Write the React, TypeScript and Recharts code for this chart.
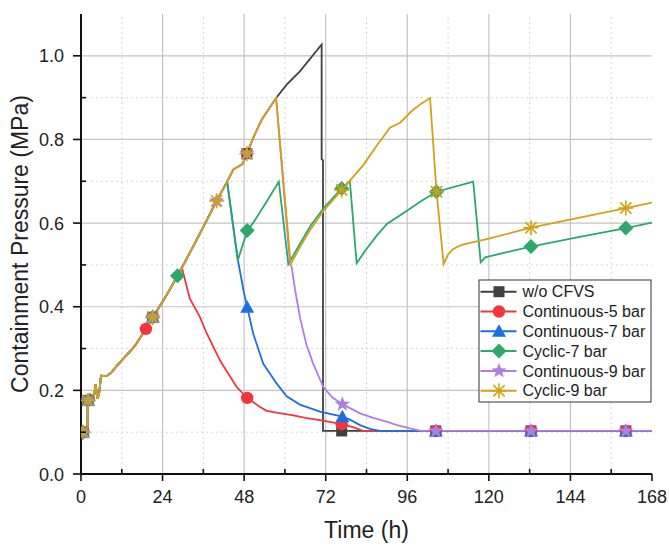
import React from 'react';
import { LineChart, Line, XAxis, YAxis, ReferenceLine } from 'recharts';

type Pt = [number, number];

// axis ticks (h / MPa)
const timeTicks = [0, 12, 24, 36, 48, 60, 72, 84, 96, 108, 120, 132, 144, 156, 168];
const timeMajor = [24, 48, 72, 96, 120, 144];
const timeMinor = [12, 36, 60, 84, 108, 132, 156];
const pressTicks = [0, 0.1, 0.2, 0.3, 0.4, 0.5, 0.6, 0.7, 0.8, 0.9, 1.0];
const pressMajor = [0.2, 0.4, 0.6, 0.8, 1.0];
const pressMinor = [0.1, 0.3, 0.5, 0.7, 0.9];

// common pressurisation before any venting
const riseCommon: Pt[] = [
  [0, 0.1], [0.6, 0.1], [1.9, 0.1], [2.0, 0.175], [2.1, 0.176], [2.5, 0.192], [2.9, 0.172],
  [3.3, 0.19], [3.7, 0.178], [4.3, 0.215], [4.8, 0.18], [5.3, 0.19], [5.9, 0.235], [7.5, 0.234],
  [9.0, 0.243], [10.9, 0.262], [13.5, 0.285], [15.9, 0.307], [18.8, 0.343], [19.1, 0.347],
  [21.1, 0.375], [25, 0.425], [28.4, 0.474],
];
const climbTo43: Pt[] = [[29.8, 0.495], [35, 0.575], [39.9, 0.653], [43, 0.699]];
const climbTo57: Pt[] = [[44.8, 0.728], [47.5, 0.741], [48.8, 0.766], [51, 0.81], [53.2, 0.848], [57.4, 0.899]];

const noCfvsTail: Pt[] = [
  [60.5, 0.931], [64.4, 0.963], [70.8, 1.027], [70.8, 0.753], [71.2, 0.75], [71.2, 0.103],
  [76.7, 0.103], [104.4, 0.103], [132.4, 0.103], [160.3, 0.103], [168, 0.103],
];
const cont5Tail: Pt[] = [
  [29.8, 0.49], [32, 0.42], [35, 0.375], [37, 0.336], [41, 0.27], [45.8, 0.208], [48.9, 0.182],
  [52.7, 0.16], [54.6, 0.151], [58, 0.146], [62.5, 0.14], [66, 0.134], [70.3, 0.129], [76.7, 0.119],
  [80, 0.112], [83, 0.103], [104.4, 0.103], [132.4, 0.103], [160.3, 0.103], [168, 0.103],
];
const cont7Tail: Pt[] = [
  [46.2, 0.51], [47.8, 0.439], [48.9, 0.399], [50.7, 0.335], [53.6, 0.264], [57.6, 0.216],
  [60.5, 0.186], [64.4, 0.166], [70.3, 0.149], [76.9, 0.137], [79.1, 0.13], [82.1, 0.117],
  [85, 0.108], [88, 0.103], [104.4, 0.103], [132.4, 0.103], [160.3, 0.103], [168, 0.103],
];
const cyc7Tail: Pt[] = [
  [46.1, 0.51], [48.9, 0.582], [50.7, 0.601], [54.5, 0.65], [58.2, 0.699], [61, 0.502],
  [64.4, 0.55], [67.5, 0.593], [71.3, 0.635], [76.7, 0.683], [79.1, 0.701], [81.1, 0.504],
  [84, 0.538], [87, 0.57], [90, 0.598], [95.8, 0.629], [100, 0.652], [104.6, 0.675],
  [114.4, 0.697], [115.4, 0.699], [117.6, 0.506], [118.9, 0.518], [125, 0.53], [132.4, 0.544],
  [146, 0.566], [160.3, 0.588], [168, 0.601],
];
const cont9Tail: Pt[] = [
  [61.5, 0.502], [62, 0.494], [63, 0.44], [64.4, 0.375], [66.3, 0.31], [68.3, 0.264],
  [71.3, 0.208], [74, 0.183], [76.9, 0.167], [82.1, 0.145], [86, 0.134], [89.9, 0.125],
  [93, 0.117], [96.8, 0.109], [100, 0.103], [104.4, 0.103], [132.4, 0.103], [160.3, 0.103], [168, 0.103],
];
const cyc9Tail: Pt[] = [
  [61.7, 0.502], [64.4, 0.542], [67.5, 0.585], [71.3, 0.629], [76.7, 0.679], [80, 0.71],
  [83, 0.738], [87, 0.785], [90.9, 0.828], [93.9, 0.84], [97.3, 0.868], [100, 0.885],
  [102.7, 0.899], [104.6, 0.675], [106.7, 0.502], [108, 0.525], [109.5, 0.538], [111.5, 0.546],
  [113.5, 0.551], [120, 0.563], [132.4, 0.589], [146, 0.612], [160.3, 0.636], [168, 0.649],
];

// times at which symbols are plotted
const noCfvsMarks = [0.6, 2.1, 21.1, 48.8, 76.7, 104.4, 132.4, 160.3];
const cont5Marks = [0.6, 19.1, 48.9, 76.7, 104.4, 132.4, 160.3];
const cont7Marks = [0.6, 2.1, 21.1, 48.9, 76.9, 104.4, 132.4, 160.3];
const cyc7Marks = [0.6, 2.1, 21.1, 28.4, 48.9, 76.7, 104.6, 132.4, 160.3];
const cont9Marks = [0.6, 2.1, 21.1, 39.9, 48.8, 76.9, 104.4, 132.4, 160.3];
const cyc9Marks = [0.6, 2.1, 21.1, 39.9, 48.8, 76.7, 104.6, 132.4, 160.3];

type Shape = 'square' | 'circle' | 'triangle' | 'diamond' | 'star' | 'asterisk';

const series = [
  { name: 'w/o CFVS', color: '#404040', shape: 'square' as Shape,
    points: [...riseCommon, ...climbTo43, ...climbTo57, ...noCfvsTail], marks: noCfvsMarks },
  { name: 'Continuous-5 bar', color: '#f2363c', shape: 'circle' as Shape,
    points: [...riseCommon, ...cont5Tail], marks: cont5Marks },
  { name: 'Continuous-7 bar', color: '#1d6ee4', shape: 'triangle' as Shape,
    points: [...riseCommon, ...climbTo43, ...cont7Tail], marks: cont7Marks },
  { name: 'Cyclic-7 bar', color: '#2ba86a', shape: 'diamond' as Shape,
    points: [...riseCommon, ...climbTo43, ...cyc7Tail], marks: cyc7Marks },
  { name: 'Continuous-9 bar', color: '#b07de2', shape: 'star' as Shape,
    points: [...riseCommon, ...climbTo43, ...climbTo57, ...cont9Tail], marks: cont9Marks },
  { name: 'Cyclic-9 bar', color: '#d4a015', shape: 'asterisk' as Shape,
    points: [...riseCommon, ...climbTo43, ...climbTo57, ...cyc9Tail], marks: cyc9Marks },
];

const FONT = '"Liberation Sans", Arial, sans-serif';

const Marker = ({ shape, color, x, y }: { shape: Shape; color: string; x: number; y: number }) => {
  switch (shape) {
    case 'square':
      return <rect x={x - 5.5} y={y - 5.5} width={11} height={11} fill={color} />;
    case 'circle':
      return <circle cx={x} cy={y} r={6.2} fill={color} />;
    case 'triangle':
      return <polygon points={`${x},${y - 7} ${x - 7},${y + 5.5} ${x + 7},${y + 5.5}`} fill={color} />;
    case 'diamond':
      return <polygon points={`${x},${y - 7.5} ${x + 7.5},${y} ${x},${y + 7.5} ${x - 7.5},${y}`} fill={color} />;
    case 'star': {
      const pts: string[] = [];
      for (let i = 0; i < 10; i++) {
        const r = i % 2 === 0 ? 8 : 3.4;
        const a = -Math.PI / 2 + (i * Math.PI) / 5;
        pts.push(`${x + r * Math.cos(a)},${y + r * Math.sin(a)}`);
      }
      return <polygon points={pts.join(' ')} fill={color} />;
    }
    default: {
      const r = 7.5;
      const d = r * 0.75;
      return (
        <g stroke={color} strokeWidth={1.6}>
          <line x1={x} y1={y - r} x2={x} y2={y + r} />
          <line x1={x - r} y1={y} x2={x + r} y2={y} />
          <line x1={x - d} y1={y - d} x2={x + d} y2={y + d} />
          <line x1={x - d} y1={y + d} x2={x + d} y2={y - d} />
        </g>
      );
    }
  }
};

const dotFor = (shape: Shape, color: string) => (props: any) => {
  const { cx, cy, payload, index } = props;
  if (!payload || !payload.mark) return <g key={`n${index}`} />;
  return (
    <g key={`m${index}`}>
      <Marker shape={shape} color={color} x={cx} y={cy} />
    </g>
  );
};

const BottomTick = (props: any) => {
  const { x, y, payload } = props;
  const v = payload.value;
  const major = v % 24 === 0;
  return (
    <g>
      <line x1={x} x2={x} y1={y} y2={major ? y + 7 : y - 5} stroke="#111" strokeWidth={1.6} />
      {major && (
        <text x={x} y={y + 29} textAnchor="middle" fontSize={18} fontFamily={FONT} fill="#222">
          {v}
        </text>
      )}
    </g>
  );
};

const LeftTick = (props: any) => {
  const { x, y, payload } = props;
  const v = payload.value;
  const major = Math.round(v * 10) % 2 === 0;
  return (
    <g>
      <line x1={x} x2={major ? x - 8 : x + 5} y1={y} y2={y} stroke="#111" strokeWidth={1.6} />
      {major && (
        <text x={x - 17} y={y + 6.5} textAnchor="end" fontSize={18} fontFamily={FONT} fill="#222">
          {v.toFixed(1)}
        </text>
      )}
    </g>
  );
};

const TopTick = (props: any) => {
  const { x, y } = props;
  return <line x1={x} x2={x} y1={y} y2={y + 7} stroke="#111" strokeWidth={1.6} />;
};

const RightTick = (props: any) => {
  const { x, y } = props;
  return <line x1={x} x2={x - 7} y1={y} y2={y} stroke="#111" strokeWidth={1.6} />;
};

const LegendBox = () => (
  <svg
    width={174}
    height={124}
    style={{ position: 'absolute', left: 478, top: 279 }}
  >
    <rect x={1} y={1} width={172} height={122} fill="#fff" stroke="#333" strokeWidth={1} />
    {series.map((s, i) => {
      const cy = 12.7 + i * 19.8;
      return (
        <g key={s.name}>
          <line x1={2.5} x2={38.5} y1={cy} y2={cy} stroke={s.color} strokeWidth={2} />
          <Marker shape={s.shape} color={s.color} x={21} y={cy} />
          <text x={44.5} y={cy + 5.7} fontSize={16} fontFamily={FONT} fill="#222">
            {s.name}
          </text>
        </g>
      );
    })}
  </svg>
);

export default function App() {
  return (
    <div style={{ position: 'absolute', left: 0, top: 0, width: 669, height: 547, background: '#fff' }}>
      <LineChart width={669} height={547} margin={{ top: 14, right: 17, bottom: 0, left: 0 }}>
        <XAxis
          xAxisId={0}
          type="number"
          dataKey="t"
          domain={[0, 168]}
          ticks={timeTicks}
          interval={0}
          height={73}
          tickSize={0}
          tickMargin={0}
          tickLine={false}
          tick={<BottomTick />}
          axisLine={{ stroke: '#111', strokeWidth: 2 }}
          allowDataOverflow
          label={{ value: 'Time (h)', position: 'insideBottom', offset: 9, fontSize: 23, fill: '#222', fontFamily: FONT }}
        />
        <XAxis
          xAxisId="top"
          orientation="top"
          type="number"
          domain={[0, 168]}
          ticks={timeTicks}
          interval={0}
          height={0}
          tickSize={0}
          tickMargin={0}
          tickLine={false}
          tick={<TopTick />}
          axisLine={{ stroke: '#111', strokeWidth: 2 }}
          allowDataOverflow
        />
        <YAxis
          yAxisId={0}
          type="number"
          domain={[0, 1.1]}
          ticks={pressTicks}
          interval={0}
          width={81}
          tickSize={0}
          tickMargin={0}
          tickLine={false}
          tick={<LeftTick />}
          axisLine={{ stroke: '#111', strokeWidth: 2 }}
          allowDataOverflow
          label={{
            value: 'Containment Pressure (MPa)',
            angle: -90,
            position: 'insideLeft',
            offset: 20,
            fontSize: 23,
            fill: '#222',
            fontFamily: FONT,
            style: { textAnchor: 'middle' },
          }}
        />
        <YAxis
          yAxisId="right"
          orientation="right"
          type="number"
          domain={[0, 1.1]}
          ticks={pressTicks}
          interval={0}
          width={0}
          tickSize={0}
          tickMargin={0}
          tickLine={false}
          tick={<RightTick />}
          axisLine={{ stroke: '#111', strokeWidth: 2 }}
          allowDataOverflow
        />

        {timeMinor.map((t) => (
          <ReferenceLine key={`vm${t}`} x={t} stroke="#d6d6d6" strokeDasharray="2 3" strokeWidth={1} />
        ))}
        {pressMinor.map((p) => (
          <ReferenceLine key={`hm${p}`} y={p} stroke="#d6d6d6" strokeDasharray="2 3" strokeWidth={1} />
        ))}
        {timeMajor.map((t) => (
          <ReferenceLine key={`vM${t}`} x={t} stroke="#c4c4c4" strokeWidth={1.2} />
        ))}
        {pressMajor.map((p) => (
          <ReferenceLine key={`hM${p}`} y={p} stroke="#c4c4c4" strokeWidth={1.2} />
        ))}

        {series.map((s) => (
          <Line
            key={s.name}
            name={s.name}
            data={s.points.map(([t, p]) => ({ t, p, mark: s.marks.includes(t) }))}
            dataKey="p"
            type="linear"
            stroke={s.color}
            strokeWidth={1.8}
            dot={dotFor(s.shape, s.color)}
            activeDot={false}
            isAnimationActive={false}
          />
        ))}
      </LineChart>
      <LegendBox />
    </div>
  );
}
